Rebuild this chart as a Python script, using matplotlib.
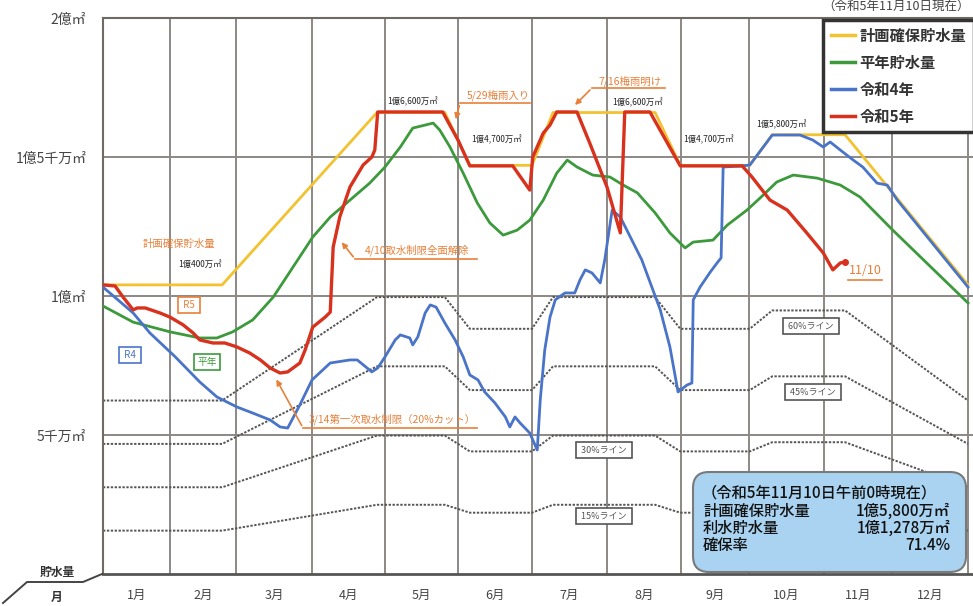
import numpy as np
import matplotlib
matplotlib.use('Agg')
import matplotlib.pyplot as plt
import matplotlib.transforms as mtransforms
from matplotlib.patches import FancyBboxPatch
from matplotlib.lines import Line2D

plt.rcParams['font.family'] = ['Noto Sans CJK JP', 'DejaVu Sans']

W, H = 973, 606

# x is month position: 0 = 1/1, 1 = 2/1 ... 12 = end of Dec; y in million m3
months = ['1月', '2月', '3月', '4月', '5月', '6月', '7月', '8月', '9月', '10月', '11月', '12月']

plan_t = [0, 1.79, 3.89, 4.82, 5.16, 6.0, 6.28, 7.65, 7.99, 9.01, 9.31, 10.31, 12.0]
plan_v = [104, 104, 166, 166, 147, 147, 166, 166, 147, 147, 158, 158, 104]

normal_t = [0, 0.45, 1.0, 1.45, 1.71, 1.95, 2.22, 2.49, 2.75, 3.01, 3.25, 3.52, 3.79, 4.0,
            4.21, 4.38, 4.66, 4.75, 4.89, 5.07, 5.26, 5.43, 5.61, 5.80, 5.97, 6.15, 6.33,
            6.47, 6.6, 6.81, 7.04, 7.22, 7.41, 7.65, 7.85, 8.06, 8.18, 8.47, 8.68, 8.97,
            9.15, 9.37, 9.59, 9.91, 10.24, 10.53, 11.01, 12.0]
normal_v = [96.4, 90.6, 87.1, 84.9, 84.9, 87.1, 91.4, 99.6, 110.4, 121.2, 128.4, 134.5, 140.6, 146.4,
            153.6, 160.4, 162.2, 159.7, 153.6, 144.2, 133.5, 126.3, 121.9, 123.7, 127.3, 134.5, 144.2,
            148.9, 146.4, 143.5, 142.8, 139.9, 137.1, 129.9, 122.7, 117.3, 119.4, 120.1, 125.5, 130.9,
            135.3, 141.0, 143.5, 142.4, 139.9, 135.6, 123.7, 97.5]

r4_t = [0, 0.45, 0.70, 1.08, 1.45, 1.71, 2.01, 2.22, 2.45, 2.58, 2.68, 2.84, 3.0, 3.25,
        3.52, 3.62, 3.82, 3.90, 4.0, 4.14, 4.21, 4.34, 4.38, 4.45, 4.55, 4.62, 4.70, 4.82,
        4.96, 5.07, 5.16, 5.27, 5.36, 5.5, 5.64, 5.70, 5.77, 5.84, 5.97, 6.07, 6.11, 6.17,
        6.24, 6.31, 6.44, 6.57, 6.64, 6.71, 6.80, 6.91, 6.97, 7.07, 7.18, 7.47, 7.72, 7.85,
        7.96, 8.09, 8.16, 8.18, 8.28, 8.43, 8.54, 8.59, 8.62, 8.90, 9.01, 9.31, 9.68, 9.85,
        9.99, 10.09, 10.24, 10.43, 10.57, 10.78, 10.93, 11.07, 12.0]
r4_v = [103.2, 93.9, 86.7, 78.1, 69.1, 63.7, 60.1, 57.9, 55.4, 52.9, 52.5, 60.8, 69.8, 75.9,
        77.0, 77.0, 72.7, 74.1, 78.1, 84.2, 86.0, 84.9, 82.4, 85.3, 93.9, 96.8, 96.0, 90.3,
        84.2, 78.1, 71.6, 69.8, 65.5, 61.5, 56.5, 52.9, 56.5, 54.3, 50.7, 44.6, 62.6, 80.6,
        92.4, 98.6, 101.1, 101.1, 105.8, 109.4, 108.3, 104.7, 113.0, 130.9, 128.4, 113.0, 95.0, 81.7,
        65.5, 68.0, 68.7, 98.6, 103.2, 108.6, 112.2, 113.7, 146.4, 146.8, 147.1, 157.9, 157.9, 156.1,
        153.6, 155.4, 152.5, 148.9, 146.4, 140.6, 139.9, 134.5, 103.2]

r5_t = [0, 0.18, 0.30, 0.45, 0.51, 0.63, 0.85, 1.0, 1.20, 1.35, 1.45, 1.65, 1.83, 2.01,
        2.18, 2.32, 2.45, 2.58, 2.68, 2.84, 2.91, 3.01, 3.18, 3.25, 3.29, 3.38, 3.52, 3.70,
        3.82, 3.86, 3.90, 4.79, 5.0, 5.16, 5.74, 5.97, 6.01, 6.15, 6.24, 6.33, 6.60, 6.77,
        7.0, 7.18, 7.24, 7.58, 7.99, 8.90, 9.04, 9.28, 9.51, 9.77, 9.99, 10.13, 10.24, 10.31]
r5_v = [104.0, 103.6, 99.6, 95.0, 95.7, 95.7, 93.9, 92.4, 89.6, 86.7, 84.2, 83.1, 83.1, 81.7,
        79.5, 77.0, 74.1, 72.3, 72.7, 75.9, 80.6, 88.8, 92.4, 94.2, 117.6, 128.4, 139.2, 147.1,
        150.0, 152.5, 166.2, 166.2, 156.1, 146.8, 146.8, 138.1, 150.0, 158.6, 161.5, 166.2, 166.2, 155.0,
        139.2, 122.7, 166.2, 166.2, 146.8, 146.8, 142.8, 134.5, 130.9, 122.7, 115.5, 109.4, 111.9, 112.2]

pct_lines = [0.60, 0.45, 0.30, 0.15]
pct_labels = ['60%ライン', '45%ライン', '30%ライン', '15%ライン']

info_lines = [('計画確保貯水量', '1億5,800万㎡'), ('利水貯水量', '1億1,278万㎡'), ('確保率', '71.4%')]

# pixel positions of month borders in the layout
edge_px = np.array([103, 170, 236, 312, 385, 458, 532, 607, 681, 749, 824, 892, 968, 1044])
edge_t = np.arange(14)


def fwd(t):
    return np.interp(t, edge_t, edge_px)


def inv(p):
    return np.interp(p, edge_px, edge_t)


fig = plt.figure(figsize=(W / 100, H / 100), dpi=100)
ax = fig.add_axes([103 / W, (H - 574) / H, (975 - 103) / W, (574 - 18) / H])
ax.set_xscale('function', functions=(fwd, inv))
ax.set_xlim(0, inv(975))
ax.set_ylim(0, 200)

# pixel transform (origin top-left)
T = mtransforms.Affine2D().scale(1, -1).translate(0, H)

grid_c = '#8c8885'
ax.set_xticks(range(13))
ax.set_xticklabels([])
ax.set_yticks([50, 100, 150, 200])
ax.set_yticklabels(['5千万㎡', '1億㎡', '1億5千万㎡', '2億㎡'])
ax.tick_params(length=0, pad=12, labelsize=10, labelcolor='#444444')
ax.grid(True, color=grid_c, lw=1.4)
ax.set_axisbelow(True)
for s in ['left', 'top']:
    ax.spines[s].set_color('#6e6a66')
    ax.spines[s].set_linewidth(1.5)
ax.spines['bottom'].set_color('#555555')
ax.spines['bottom'].set_linewidth(2)
ax.spines['right'].set_visible(False)

# percentage lines
for p in pct_lines:
    ax.plot(plan_t, [p * v for v in plan_v], color='#555555', lw=1.4, ls=(0, (1.2, 0.8)), zorder=2)

ax.plot(plan_t, plan_v, color='#f2c230', lw=2, zorder=3)
ax.plot(normal_t, normal_v, color='#3c9a3c', lw=2, zorder=3)
ax.plot(r4_t, r4_v, color='#4a74c8', lw=2, zorder=4)
ax.plot(r5_t, r5_v, color='#d8321e', lw=2.4, zorder=5)
ax.plot(r5_t[-1], r5_v[-1], 'o', color='#d8321e', ms=4, zorder=5)

# month labels
bt = mtransforms.blended_transform_factory(ax.transData, T)
for i, m in enumerate(months):
    ax.text(i + 0.5, 595, m, transform=bt, ha='center', va='center', fontsize=9, color='#444444')

# header corner
fig.add_artist(Line2D([3, 27, 83, 102], [603, 582, 582, 574], transform=T, color='#444444', lw=1.4))
fig.text(57, 572, '貯水量', transform=T, ha='center', va='center', fontsize=8.5, color='#333333', fontweight='bold')
fig.text(57, 597, '月', transform=T, ha='center', va='center', fontsize=8.5, color='#333333', fontweight='bold')

fig.text(970, 1, '（令和5年11月10日現在）', transform=T, ha='right', va='top', fontsize=9, color='#444444')

orange = '#e8803a'
small = dict(transform=T, ha='center', va='center', zorder=8)
fig.text(179, 244, '計画確保貯水量', color=orange, fontsize=7.5, **small)
fig.text(200, 264, '1億400万㎡', color='#222222', fontsize=6, **small)
for x, y, s in [(413, 102, '1億6,600万㎡'), (638, 103, '1億6,600万㎡'), (497, 140, '1億4,700万㎡'),
                (709, 140, '1億4,700万㎡'), (781, 125, '1億5,800万㎡')]:
    fig.text(x, y, s, color='#222222', fontsize=6, **small)


def note(text, tx, ty, ul0, ul1, uy, ax_, ay_, fs=7.5):
    fig.text(tx, ty, text, color=orange, fontsize=fs, **small)
    fig.add_artist(Line2D([ul0, ul1], [uy, uy], transform=T, color=orange, lw=1.2, zorder=8))
    ax.annotate('', xy=(ax_, ay_), xytext=(ul0, uy), xycoords=T, textcoords=T,
                arrowprops=dict(arrowstyle='-|>', color=orange, lw=1.2, mutation_scale=8), zorder=8)


note('5/29梅雨入り', 498, 95, 460, 530, 103, 455, 122)
note('7/16梅雨明け', 630, 81, 592, 665, 88, 573, 107)
note('4/10取水制限全面解除', 417, 250, 355, 477, 259, 340, 240)
note('3/14第一次取水制限（20%カット）', 392, 419, 303, 477, 428, 275, 377)
fig.text(865, 271, '11/10', color=orange, fontsize=9, **small)
fig.add_artist(Line2D([848, 882], [280, 280], transform=T, color=orange, lw=1.2))


def tag(x, y, s, c, fs=7):
    fig.text(x, y, s, color=c, fontsize=fs, transform=T, ha='center', va='center', zorder=9,
             bbox=dict(boxstyle='square,pad=0.35', fc='white', ec=c, lw=1.2))


tag(189, 305, ' R5 ', orange)
tag(130, 355, ' R4 ', '#4a74c8')
tag(207, 362, '平年', '#3c9a3c')
for (x, y), s in zip([(811, 326), (813, 392), (604, 450), (604, 516)], pct_labels):
    tag(x, y, ' ' + s + ' ', '#555555', fs=6.5)

# info box
box = FancyBboxPatch((693, 472), 273, 100, boxstyle='round,pad=0,rounding_size=16',
                     transform=T, fc='#a9d3f1', ec='#7a7a7a', lw=1.5, zorder=10)
fig.add_artist(box)
fig.text(702, 493, '（令和5年11月10日午前0時現在）', transform=T, ha='left', va='center',
         fontsize=11, color='#111111', zorder=11, fontweight='medium')
for k, (a, b) in enumerate(info_lines):
    y = 511 + 17 * k
    fig.text(703, y, a, transform=T, ha='left', va='center', fontsize=11, color='#111111', zorder=11,
             fontweight='medium')
    fig.text(950, y, b, transform=T, ha='right', va='center', fontsize=11, color='#111111', zorder=11,
             fontweight='medium')

# legend
handles = [Line2D([], [], color='#f2c230', lw=2.5), Line2D([], [], color='#3c9a3c', lw=2.5),
           Line2D([], [], color='#4a74c8', lw=2.5), Line2D([], [], color='#d8321e', lw=2.5)]
leg = ax.legend(handles, ['計画確保貯水量', '平年貯水量', '令和4年', '令和5年'],
                loc='upper left', bbox_to_anchor=(823, 20), bbox_transform=T, borderaxespad=0,
                fancybox=False, framealpha=1, edgecolor='#333333', handlelength=1.6,
                handletextpad=0.3, labelspacing=0.72, borderpad=0.5,
                prop={'size': 11, 'weight': 'bold'})
leg.get_frame().set_linewidth(2.5)
leg.set_zorder(12)
for t in leg.get_texts():
    t.set_color('#333333')

fig.savefig('out.png', dpi=100)
